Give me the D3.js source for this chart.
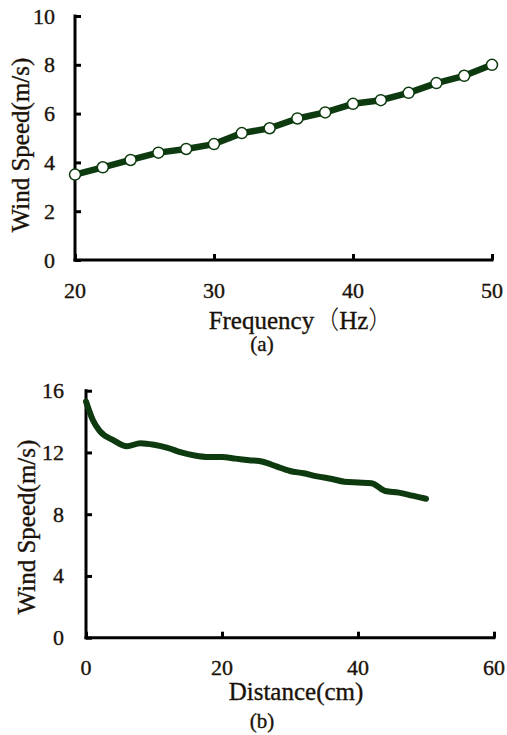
<!DOCTYPE html>
<html><head><meta charset="utf-8">
<script src="https://cdn.jsdelivr.net/npm/d3@7"></script>
<style>body{margin:0;background:#fff}svg{display:block}</style>
</head><body>
<svg id="c" width="507" height="735"></svg>
<script>
// Chart (a)
const freq = [20,22,24,26,28,30,32,34,36,38,40,42,44,46,48,50];
const speedA = [3.5,3.8,4.1,4.4,4.55,4.75,5.2,5.4,5.8,6.05,6.4,6.55,6.85,7.25,7.55,8.0];
const xTicksA = [20,30,40,50];
const yTicksA = [0,2,4,6,8,10];
// Chart (b)
const dist = [0,1,2,4,6,8,10,12,14,16,18,20,22,24,26,28,30,32,34,36,38,40,42,44,46,48,50];
const speedB = [15.3,14.1,13.4,12.8,12.4,12.6,12.5,12.3,12.0,11.8,11.7,11.7,11.6,11.5,11.4,11.1,10.8,10.65,10.45,10.3,10.1,10.05,10.0,9.5,9.4,9.2,9.0];
const xTicksB = [0,20,40,60];
const yTicksB = [0,4,8,12,16];

const SERIF = "'Liberation Serif', 'Times New Roman', serif";
const svg = d3.select("#c");
const green = "#0d3a0e";
const ink = "#1a1208";

function txt(g){
  return g.append("text").attr("font-family",SERIF).attr("fill",ink)
    .attr("stroke",ink).attr("stroke-width",0.35);
}

function panel(o){
  const x = d3.scaleLinear().domain(o.xd).range([o.x0,o.x1]);
  const y = d3.scaleLinear().domain(o.yd).range([o.y0,o.y1]);
  const g = svg.append("g");
  const xa = g.append("g").attr("transform",`translate(0,${o.y0})`)
    .call(d3.axisTop(x).tickValues(o.xt).tickSize(6).tickFormat(""));
  const ya = g.append("g").attr("transform",`translate(${o.x0},0)`)
    .call(d3.axisRight(y).tickValues(o.yt).tickSize(6).tickFormat(""));
  [xa,ya].forEach(a=>{
    a.select(".domain").remove();
    a.selectAll(".tick text").remove();
    a.selectAll(".tick line").attr("stroke","#000").attr("stroke-width",3);
  });
  g.append("line").attr("x1",x(o.xd[0])).attr("x2",x(o.xd[1])).attr("y1",o.y0).attr("y2",o.y0)
    .attr("stroke","#000").attr("stroke-width",3).attr("stroke-linecap","square");
  g.append("line").attr("x1",o.x0).attr("x2",o.x0).attr("y1",y(o.yd[0])).attr("y2",y(o.yd[1]))
    .attr("stroke","#000").attr("stroke-width",3).attr("stroke-linecap","square");
  o.xt.forEach(d=>{
    txt(g).attr("x",x(d)).attr("y",o.xtb).attr("text-anchor","middle").attr("font-size",22).text(d);
  });
  o.yt.forEach(d=>{
    txt(g).attr("x",o.ytx).attr("y",y(d)+7.5).attr("text-anchor","end").attr("font-size",22).text(d);
  });
  const xt = txt(g).attr("x",o.xtitleX).attr("y",o.xtitleY).attr("text-anchor","middle").attr("font-size",25);
  o.xtitle(xt);
  txt(g).attr("transform",`translate(${o.ytitleX},${o.ytitleY}) rotate(-90)`)
    .attr("text-anchor","middle").attr("font-size",25).text("Wind Speed(m/s)");
  txt(g).attr("x",262).attr("y",o.capY).attr("text-anchor","middle").attr("font-size",21).text(o.cap);
  const line = d3.line().x(d=>x(d[0])).y(d=>y(d[1])).curve(o.curve);
  const pts = o.xs.map((v,i)=>[v,o.ys[i]]);
  g.append("path").datum(pts).attr("d",line).attr("fill","none").attr("stroke",green)
    .attr("stroke-width",o.lw).attr("stroke-linejoin","round").attr("stroke-linecap","round");
  if(o.markers){
    g.selectAll("circle").data(pts).join("circle").attr("cx",d=>x(d[0])).attr("cy",d=>y(d[1]))
      .attr("r",5.5).attr("fill","#fff").attr("stroke",green).attr("stroke-width",1.5);
  }
}

panel({xd:[20,50],yd:[0,10],x0:75,x1:492,y0:260,y1:16,xt:xTicksA,yt:yTicksA,
  xtb:298,ytx:55,
  xtitle:t=>{
    t.append("tspan").text("Frequency");
    t.append("tspan").attr("font-family","'Noto Sans CJK SC', sans-serif").attr("font-weight",300).attr("stroke-width",0).text("\uFF08");
    t.append("tspan").text("Hz");
    t.append("tspan").attr("font-family","'Noto Sans CJK SC', sans-serif").attr("font-weight",300).attr("stroke-width",0).text("\uFF09");
  },
  xtitleX:301,xtitleY:329,ytitleX:29,ytitleY:145,
  cap:"(a)",capY:351,xs:freq,ys:speedA,markers:true,curve:d3.curveLinear,lw:6.5});
panel({xd:[0,60],yd:[0,16],x0:86,x1:494,y0:637.7,y1:390.7,xt:xTicksB,yt:yTicksB,
  xtb:675,ytx:64,xtitle:t=>t.text("Distance(cm)"),xtitleX:296,xtitleY:700,ytitleX:35,ytitleY:527,
  cap:"(b)",capY:728,xs:dist,ys:speedB,markers:false,curve:d3.curveMonotoneX,lw:6});
</script>
</body></html>
